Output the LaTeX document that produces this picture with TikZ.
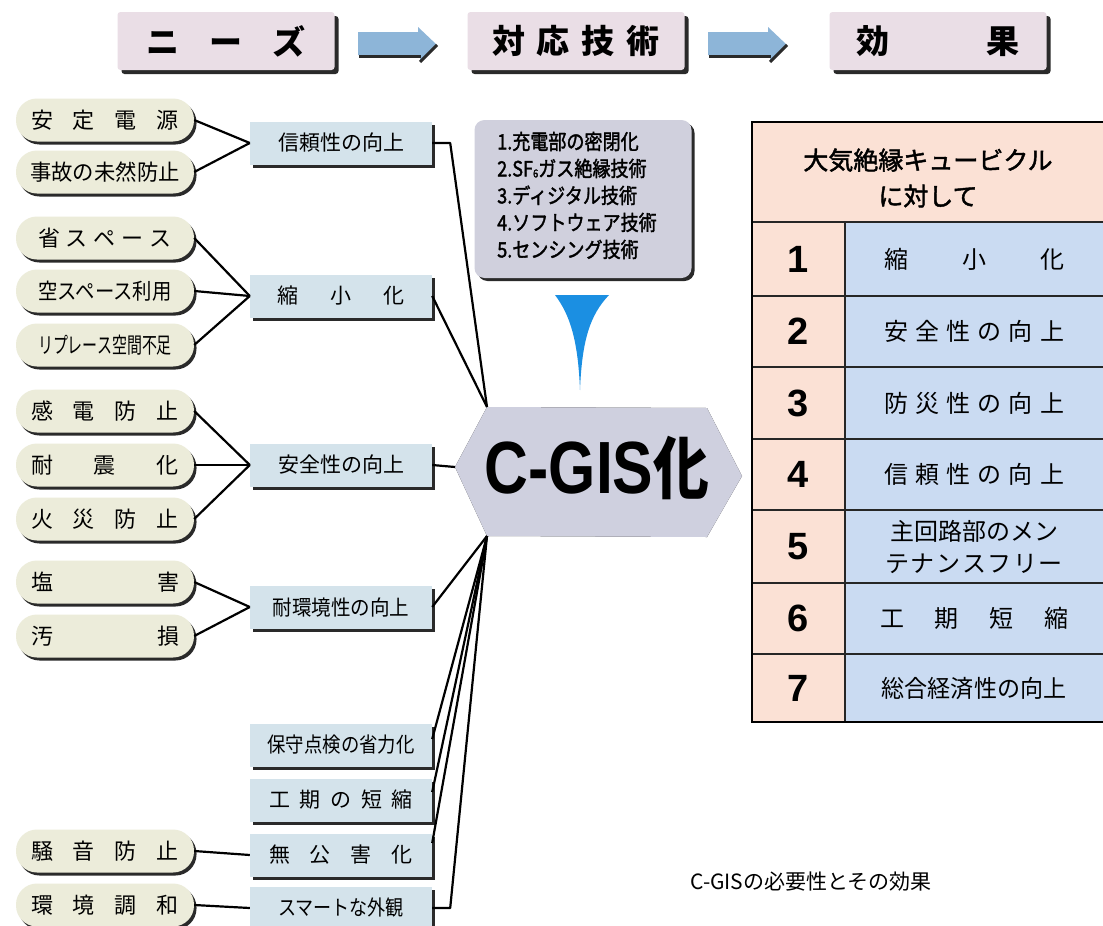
\documentclass[tikz,border=0pt]{standalone}
\usepackage{fontspec}
\setmainfont{Noto Sans CJK JP}
\newfontfamily\jpsemi{Noto Sans CJK JP}[BoldFont=Noto Sans CJK JP, BoldFeatures={FakeBold=1.8}]
\newfontfamily\lsans{Liberation Sans}
\usepackage{graphicx}
\usetikzlibrary{shadows}

\definecolor{topc}{HTML}{EADEE6}
\definecolor{pillc}{HTML}{ECECDA}
\definecolor{boxc}{HTML}{D4E3EB}
\definecolor{arrc}{HTML}{8DB5D8}
\definecolor{hexc}{HTML}{CFD0DF}
\definecolor{callc}{HTML}{D0D0DD}
\definecolor{tric}{HTML}{1B8FE2}
\definecolor{tpink}{HTML}{FBE1D5}
\definecolor{tblue}{HTML}{CADBF2}
\definecolor{shad}{HTML}{2A2A2A}

\newcommand{\sprd}[2]{\makebox[#1][s]{#2}}
\newcommand{\cnd}[2]{\scalebox{#1}[1]{#2}}

\begin{document}
\begin{tikzpicture}[x=1pt,y=-1pt,
 topbox/.style={fill=topc, rounded corners=3pt, minimum width=217pt, minimum height=58pt, inner sep=0pt,
   font=\fontsize{33}{33}\selectfont\rmfamily\bfseries,
   drop shadow={shadow xshift=4pt, shadow yshift=-4pt, fill=shad, opacity=1}},
 pill/.style={fill=pillc, rounded corners=21pt, minimum width=178pt, minimum height=43pt, inner sep=0pt,
   font=\fontsize{22}{22}\selectfont,
   drop shadow={shadow xshift=2.5pt, shadow yshift=-3pt, fill=shad, opacity=1}},
 bbox/.style={fill=boxc, minimum width=182pt, minimum height=43pt, inner sep=0pt,
   font=\fontsize{21}{21}\selectfont,
   drop shadow={shadow xshift=3pt, shadow yshift=-3pt, fill=shad, opacity=1}},
 callout/.style={fill=callc, rounded corners=10pt, minimum width=217pt, minimum height=158pt, inner sep=0pt,
   drop shadow={shadow xshift=3pt, shadow yshift=-3pt, fill=shad, opacity=1}},
 conn/.style={line width=2.2pt, black, line join=round},
 tline/.style={line width=1.3pt, black!85},
 numtxt/.style={font=\fontsize{38}{38}\selectfont\lsans\bfseries},
 rowtxt/.style={font=\fontsize{24}{24}\selectfont, align=center},
]
\useasboundingbox (0,0) rectangle (1103,926);
\fill[white] (0,0) rectangle (1103,926);

% ---- header boxes
\node[topbox] (h1) at (226,41) {\sprd{160pt}{ニ\hfill ー\hfill ズ}};
\node[topbox] (h2) at (576,41) {\sprd{168pt}{対\hfill 応\hfill 技\hfill 術}};
\node[topbox] (h3) at (938,41) {\sprd{164pt}{効\hfill 果}};

% ---- arrows
\foreach \dx in {0,350}{
  \begin{scope}[shift={(\dx,0)}]
    \fill[arrc] (358,32) -- (418,32) -- (418,27) -- (437,45) -- (420,62) -- (420,55) -- (358,55) -- cycle;
    \draw[line width=3pt, shad] (359,56.5) -- (421,56.5);
    \draw[line width=3pt, shad] (437,45) -- (420,62);
  \end{scope}
}

% ---- pills
\node[pill] (p1) at (105,120) {\sprd{148pt}{安\hfill 定\hfill 電\hfill 源}};
\node[pill] (p2) at (105,172) {\cnd{0.97}{事故の未然防止}};
\node[pill] (p3) at (105,238) {\sprd{134pt}{省\hfill ス\hfill ペ\hfill ー\hfill ス}};
\node[pill] (p4) at (105,291) {\cnd{0.88}{空スペース利用}};
\node[pill] (p5) at (105,345) {\cnd{0.68}{リプレース空間不足}};
\node[pill] (p6) at (105,411) {\sprd{148pt}{感\hfill 電\hfill 防\hfill 止}};
\node[pill] (p7) at (105,465) {\sprd{148pt}{耐\hfill 震\hfill 化}};
\node[pill] (p8) at (105,519) {\sprd{148pt}{火\hfill 災\hfill 防\hfill 止}};
\node[pill] (p9) at (105,582) {\sprd{148pt}{塩\hfill 害}};
\node[pill] (p10) at (105,636) {\sprd{148pt}{汚\hfill 損}};
\node[pill] (p11) at (105,851) {\sprd{148pt}{騒\hfill 音\hfill 防\hfill 止}};
\node[pill] (p12) at (105,905) {\sprd{148pt}{環\hfill 境\hfill 調\hfill 和}};

% ---- blue boxes
\node[bbox] (b1) at (341,143) {信頼性の向上};
\node[bbox] (b2) at (341,296) {\sprd{127pt}{縮\hfill 小\hfill 化}};
\node[bbox] (b3) at (341,465) {安全性の向上};
\node[bbox] (b4) at (341,607) {\cnd{0.93}{耐環境性の向上}};
\node[bbox] (b5) at (341,745) {\cnd{0.875}{保守点検の省力化}};
\node[bbox] (b6) at (341,800) {\sprd{144pt}{工\hfill 期\hfill の\hfill 短\hfill 縮}};
\node[bbox] (b7) at (341,855) {\sprd{144pt}{無\hfill 公\hfill 害\hfill 化}};
\node[bbox] (b8) at (341,908) {\cnd{0.86}{スマートな外観}};

% ---- callout
\node[callout] (cl) at (583,199) {};
\node (ct) at (577,198) {\cnd{0.86}{\fontsize{21}{27}\selectfont\jpsemi\bfseries
  \begin{tabular}{@{}l@{}}
  1.充電部の密閉化\\
  2.SF{\fontsize{11}{11}\selectfont\raisebox{-1pt}{6}}ガス絶縁技術\\
  3.ディジタル技術\\
  4.ソフトウェア技術\\
  5.センシング技術
  \end{tabular}}};

% ---- triangle
\fill[tric] (555,295) -- (609,295) .. controls (590,315) and (582,340) .. (580,390)
  .. controls (578,340) and (570,315) .. (555,295) -- cycle;

% ---- hexagon
\coordinate (hL) at (455,467);
\coordinate (hTL) at (487,407);
\coordinate (hTR) at (707,408);
\coordinate (hR) at (742,476);
\coordinate (hBR) at (707,537);
\coordinate (hBL) at (487,536);
\fill[shad, shift={(3,3)}] (hL) -- (hTL) -- (hTR) -- (hR) -- (hBR) -- (hBL) -- cycle;
\fill[hexc] (hL) -- (hTL) -- (hTR) -- (hR) -- (hBR) -- (hBL) -- cycle;
\node (cg) at (597,468) {\cnd{0.82}{\fontsize{74}{74}\selectfont\lsans\bfseries C-GIS\rmfamily\bfseries\fontsize{68}{68}\selectfont 化}};

% ---- connectors left
\draw[conn] (p1.east) -- (b1.west);
\draw[conn] (p2.east) -- (b1.west);
\draw[conn] (p3.east) -- (b2.west);
\draw[conn] (p4.east) -- (b2.west);
\draw[conn] (p5.east) -- (b2.west);
\draw[conn] (p6.east) -- (b3.west);
\draw[conn] (p7.east) -- (b3.west);
\draw[conn] (p8.east) -- (b3.west);
\draw[conn] (p9.east) -- (b4.west);
\draw[conn] (p10.east) -- (b4.west);
\draw[conn] (p11.east) -- (b7.west);
\draw[conn] (p12.east) -- (b8.west);

% ---- connectors right
\draw[conn] (b1.east) -- ++(18,0) -- (hTL);
\draw[conn] (b2.east) -- (hTL);
\draw[conn] (b3.east) -- (hL);
\draw[conn] (b4.east) -- (hBL);
\draw[conn] ([yshift=6pt]b5.east) -- (hBL);
\draw[conn] ([yshift=8pt]b6.east) -- (hBL);
\draw[conn] ([yshift=12pt]b7.east) -- (hBL);
\draw[conn] (b8.east) -- ++(18,0) -- (hBL);

% ---- table
\fill[tpink] (752,122) rectangle (1103,222);
\fill[tpink] (752,222) rectangle (845,722);
\fill[tblue] (845,222) rectangle (1103,722);
\foreach \yy in {222,296,367,439,510,583,654}{
  \draw[tline] (752,\yy) -- (1103,\yy);
}
\draw[tline] (845,222) -- (845,722);
\draw[line width=1.8pt] (1103,122) -- (752,122) -- (752,722) -- (1103,722);

\node[font=\fontsize{25}{36}\selectfont\jpsemi\bfseries, align=center] (thd) at (928,178) {大気絶縁キュービクル\\に対して};

\node[numtxt] (n1) at (798,259) {1};
\node[numtxt] (n2) at (798,331.5) {2};
\node[numtxt] (n3) at (798,403) {3};
\node[numtxt] (n4) at (798,474.5) {4};
\node[numtxt] (n5) at (798,546.5) {5};
\node[numtxt] (n6) at (798,618.5) {6};
\node[numtxt] (n7) at (798,688) {7};

\node[rowtxt] (r1) at (974,259) {\sprd{180pt}{縮\hfill 小\hfill 化}};
\node[rowtxt] (r2) at (974,331.5) {\sprd{180pt}{安\hfill 全\hfill 性\hfill の\hfill 向\hfill 上}};
\node[rowtxt] (r3) at (974,403) {\sprd{180pt}{防\hfill 災\hfill 性\hfill の\hfill 向\hfill 上}};
\node[rowtxt] (r4) at (974,474.5) {\sprd{180pt}{信\hfill 頼\hfill 性\hfill の\hfill 向\hfill 上}};
\node[rowtxt, font=\fontsize{24}{32}\selectfont] (r5) at (974,546.5) {\sprd{168pt}{主\hfill 回\hfill 路\hfill 部\hfill の\hfill メ\hfill ン}\\\sprd{178pt}{テ\hfill ナ\hfill ン\hfill ス\hfill フ\hfill リ\hfill ー}};
\node[rowtxt] (r6) at (974,618.5) {\sprd{188pt}{工\hfill 期\hfill 短\hfill 縮}};
\node[rowtxt] (r7) at (974,688) {\cnd{0.96}{総合経済性の向上}};

% ---- caption
\node[font=\fontsize{21}{21}\selectfont] (cap) at (811,882) {C-GISの必要性とその効果};
\end{tikzpicture}
\end{document}
